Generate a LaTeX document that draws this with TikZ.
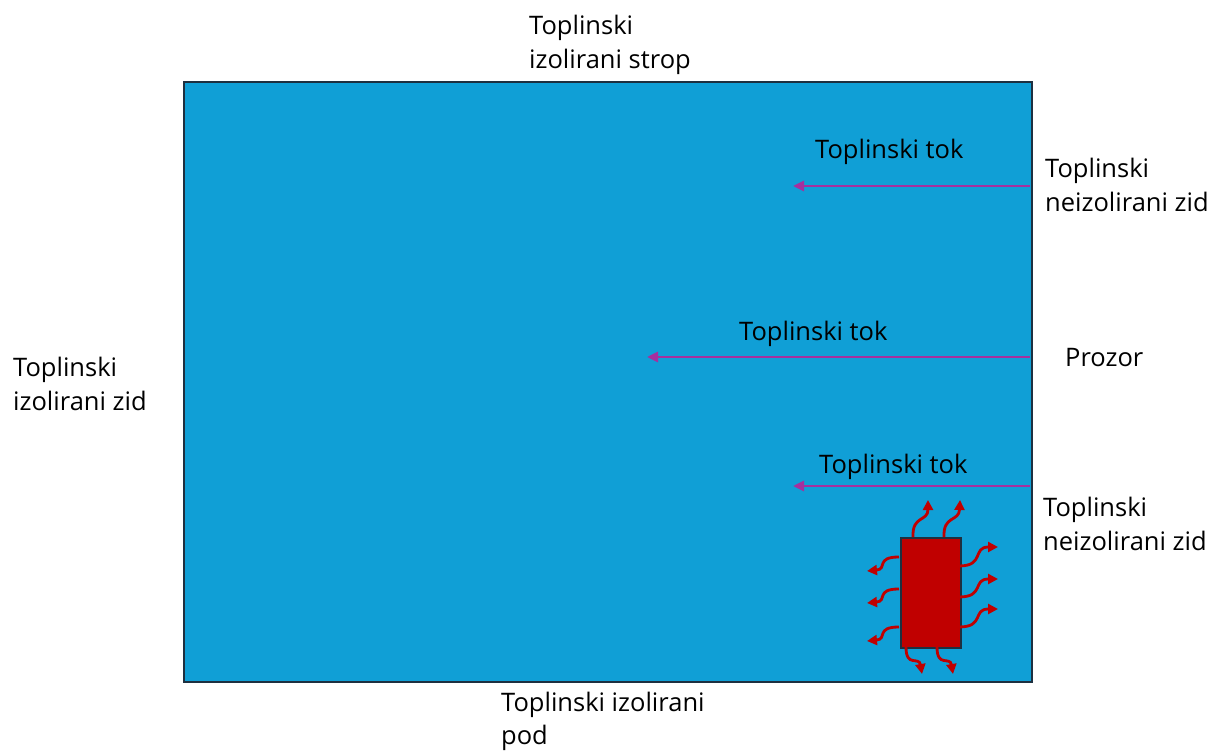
\documentclass[tikz,border=0pt]{standalone}
\usepackage{fontspec}
\setmainfont{Open Sans}
\usetikzlibrary{arrows.meta}
\definecolor{room}{HTML}{109FD6}
\definecolor{flow}{HTML}{A5309E}
\definecolor{heat}{HTML}{C00000}
\definecolor{edge}{HTML}{1E3040}
\tikzset{
  lbl/.style={inner sep=0pt, align=left, anchor=north west, font=\fontsize{25.5}{34}\selectfont, text=black},
  flowarrow/.style={draw=flow, line width=2.6pt, -{Triangle[length=11pt,width=10pt]}},
  wave/.style={draw=heat, line width=2.8pt, -{Triangle[length=10pt,width=10pt]}},
}
\begin{document}
\begin{tikzpicture}[x=1pt,y=-1pt]
\useasboundingbox (0,0) rectangle (1213,751);
\node[draw=edge, line width=2pt, fill=room, minimum width=848pt, minimum height=600pt, anchor=north west, inner sep=0pt] (room) at (183,81) {};
% heat flow arrows
\coordinate (a1s) at (1030,186); \coordinate (a1e) at (793,186);
\coordinate (a2s) at (1030,357); \coordinate (a2e) at (647,357);
\coordinate (a3s) at (1030,486); \coordinate (a3e) at (793,486);
\draw[flowarrow] (a1s) -- (a1e);
\draw[flowarrow] (a2s) -- (a2e);
\draw[flowarrow] (a3s) -- (a3e);
\node[lbl] (t1) at (815,139) {Toplinski tok};
\node[lbl] (t2) at (739,321) {Toplinski tok};
\node[lbl] (t3) at (819,454) {Toplinski tok};
% outside labels
\node[lbl] (strop) at (529,15) {Toplinski\\izolirani strop};
\node[lbl] (zid1) at (1045,158) {Toplinski\\neizolirani zid};
\node[lbl] (prozor) at (1065,348) {Prozor};
\node[lbl] (zidl) at (13,357) {Toplinski\\izolirani zid};
\node[lbl] (zid2) at (1043,497) {Toplinski\\neizolirani zid};
\node[lbl,font=\fontsize{25.5}{33}\selectfont] (pod) at (501,692) {Toplinski izolirani\\pod};
% heater
\node[draw=edge, line width=2pt, fill=heat, minimum width=60pt, minimum height=110pt, anchor=north west, inner sep=0pt] (heater) at (900,537) {};
% wavy arrows: top
\draw[wave] (913,537) .. controls (912,515) and (928,522) .. (928,500);
\draw[wave] (944,537) .. controls (943,515) and (959,522) .. (960,500);
% bottom
\draw[wave] (906,647) .. controls (906,668) and (919,656) .. (922,674);
\draw[wave] (937,647) .. controls (937,668) and (950,656) .. (953,674);
% left
\draw[wave] (899,557) .. controls (875,557) and (888,569) .. (867,571);
\draw[wave] (899,589) .. controls (875,589) and (888,601) .. (867,603);
\draw[wave] (899,627) .. controls (875,627) and (888,639) .. (867,641);
% right
\draw[wave] (959,566) .. controls (985,566) and (972,547) .. (998,547);
\draw[wave] (959,597) .. controls (985,597) and (972,579) .. (998,579);
\draw[wave] (959,627) .. controls (985,627) and (972,609) .. (998,609);
\end{tikzpicture}
\end{document}
